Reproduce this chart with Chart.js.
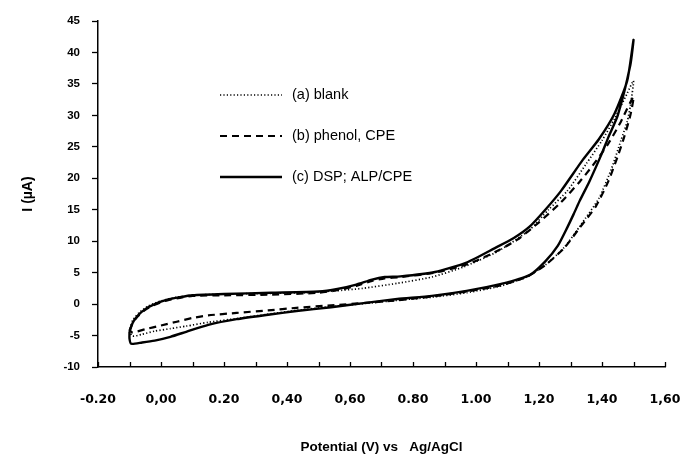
<!DOCTYPE html>
<html>
<head>
<meta charset="utf-8">
<title>Cyclic voltammograms</title>
<script src="https://cdn.jsdelivr.net/npm/chart.js@4/dist/chart.umd.min.js"></script>
<style>
  html, body { margin: 0; padding: 0; background: #ffffff; }
  #wrap { width: 681px; height: 458px; }
</style>
</head>
<body>
<div id="wrap"><canvas id="cv" width="681" height="458"></canvas></div>
<script>
// Cyclic voltammograms: potential (V vs Ag/AgCl) against current (µA).
// Each curve is a closed loop: anodic branch up to 1.5 V, then the return branch.

const seriesNames = ['(a) blank', '(b) phenol, CPE', '(c) DSP; ALP/CPE'];

const blankPotential = [
  -0.10, -0.09, -0.07, -0.04, 0.00, 0.05, 0.10, 0.20, 0.35, 0.45, 0.55, 0.64, 0.75, 0.86, 0.96,
  1.07, 1.17, 1.23, 1.29, 1.35, 1.40, 1.44, 1.48, 1.50,
  1.49, 1.48, 1.46, 1.43, 1.39, 1.33, 1.28, 1.22, 1.16, 1.08, 0.97, 0.86, 0.75, 0.65, 0.54,
  0.43, 0.34, 0.24, 0.15, 0.08, 0.03, -0.02, -0.06, -0.09, -0.10
];
const blankCurrent = [
  -4.4, -2.6, -1.4, -0.3, 0.5, 1.1, 1.4, 1.6, 1.7, 1.8, 2.1, 2.5, 3.3, 4.3, 5.9,
  8.4, 11.8, 15.0, 18.0, 22.3, 26.0, 29.5, 33.5, 35.5,
  31.5, 29.0, 26.0, 21.5, 16.8, 12.4, 9.0, 6.2, 4.3, 2.9, 1.8, 1.1, 0.6, 0.1, -0.4,
  -1.0, -1.6, -2.3, -2.9, -3.5, -3.9, -4.3, -4.8, -5.1, -4.4
];

const phenolPotential = [
  -0.10, -0.09, -0.075, -0.05, -0.02, 0.02, 0.06, 0.10, 0.20, 0.35, 0.50, 0.56, 0.62, 0.67, 0.71,
  0.76, 0.87, 0.97, 1.05, 1.13, 1.20, 1.27, 1.33, 1.37, 1.42, 1.46, 1.50,
  1.49, 1.47, 1.45, 1.42, 1.38, 1.33, 1.28, 1.22, 1.16, 1.08, 0.97, 0.86, 0.75, 0.65, 0.54,
  0.43, 0.34, 0.24, 0.15, 0.10, 0.05, 0.00, -0.05, -0.09, -0.10
];
const phenolCurrent = [
  -4.2, -3.0, -2.0, -0.9, -0.1, 0.6, 1.0, 1.3, 1.4, 1.5, 1.8, 2.2, 2.9, 3.7, 4.1,
  4.3, 5.0, 6.3, 8.0, 10.2, 13.0, 16.2, 19.5, 22.0, 25.5, 29.0, 33.0,
  30.0, 26.5, 23.5, 19.5, 15.5, 12.2, 8.9, 6.2, 4.3, 3.0, 2.0, 1.2, 0.6, 0.2, -0.2,
  -0.6, -1.0, -1.4, -1.8, -2.2, -2.8, -3.4, -4.0, -4.5, -4.2
];

const dspPotential = [
  -0.10, -0.09, -0.075, -0.05, -0.02, 0.02, 0.06, 0.10, 0.20, 0.35, 0.50, 0.56, 0.62, 0.67, 0.71,
  0.76, 0.87, 0.97, 1.06, 1.12, 1.17, 1.22, 1.27, 1.34, 1.39, 1.44, 1.48, 1.50,
  1.49, 1.45, 1.42, 1.40, 1.36, 1.33, 1.31, 1.29, 1.26, 1.22, 1.17, 1.08, 0.97, 0.86, 0.75, 0.65, 0.54,
  0.43, 0.34, 0.24, 0.15, 0.08, 0.03, -0.02, -0.06, -0.095, -0.10, -0.10
];
const dspCurrent = [
  -4.4, -3.0, -1.9, -0.8, 0.0, 0.7, 1.1, 1.4, 1.6, 1.8, 2.0, 2.4, 3.1, 3.9, 4.3,
  4.4, 5.1, 6.6, 8.9, 10.5, 12.3, 15.0, 18.0, 23.0, 26.2, 30.3, 35.5, 42.0,
  38.0, 30.0, 26.5, 24.0, 19.5, 16.5, 14.3, 12.2, 9.3, 6.8, 4.6, 3.2, 2.1, 1.3, 0.8, 0.2, -0.5,
  -1.1, -1.7, -2.4, -3.3, -4.4, -5.2, -5.8, -6.1, -6.3, -5.5, -4.4
];

// Tick labels along the potential axis (one every 0.2 V)
const potentialTickLabels = ['-0.20', '0,00', '0.20', '0,40', '0,60', '0.80', '1.00', '1,20', '1,40', '1,60'];
const currentTicks = [45, 40, 35, 30, 25, 20, 15, 10, 5, 0, -5, -10];

const toPoints = (xs, ys) => xs.map((x, i) => ({ x: x, y: ys[i] }));

const tickFont = { family: 'Liberation Sans, Arial, sans-serif', size: 11.5, weight: 'bold' };
const xTickFont = { family: 'DejaVu Sans, sans-serif', size: 12.5, weight: 'bold' };

// Tick marks on the potential axis (every 0.1 V) point up into the plot
const innerTicks = {
  id: 'innerTicks',
  afterDraw(chart) {
    const x = chart.scales.x;
    const ctx = chart.ctx;
    const bottom = chart.chartArea.bottom;
    ctx.save();
    ctx.strokeStyle = '#000';
    ctx.lineWidth = 1.3;
    const step = 0.1;
    const n = Math.round((x.max - x.min) / step);
    for (let i = 0; i <= n; i++) {
      const px = Math.round(x.getPixelForValue(x.min + i * step)) + 0.5;
      ctx.beginPath();
      ctx.moveTo(px, bottom);
      ctx.lineTo(px, bottom - 5);
      ctx.stroke();
    }
    ctx.restore();
  }
};

// Legend drawn inside the plot, sample line followed by the label
const insideLegend = {
  id: 'insideLegend',
  afterDatasetsDraw(chart, args, opts) {
    const ctx = chart.ctx;
    ctx.save();
    ctx.font = opts.font;
    ctx.textBaseline = 'middle';
    ctx.fillStyle = '#000';
    chart.data.datasets.forEach((ds, i) => {
      const y = opts.top + i * opts.rowGap;
      ctx.beginPath();
      ctx.setLineDash(ds.borderDash || []);
      ctx.lineWidth = ds.borderWidth;
      ctx.strokeStyle = ds.borderColor;
      ctx.moveTo(opts.left, y);
      ctx.lineTo(opts.left + opts.lineLength, y);
      ctx.stroke();
      ctx.setLineDash([]);
      ctx.fillText(ds.label, opts.left + opts.lineLength + opts.gap, y);
    });
    ctx.restore();
  }
};

new Chart(document.getElementById('cv'), {
  type: 'scatter',
  data: {
    datasets: [
      {
        label: seriesNames[0],
        data: toPoints(blankPotential, blankCurrent),
        showLine: true,
        borderColor: '#000',
        borderWidth: 1.7,
        borderDash: [1.2, 2.2],
        pointRadius: 0,
        tension: 0.2,
        fill: false
      },
      {
        label: seriesNames[1],
        data: toPoints(phenolPotential, phenolCurrent),
        showLine: true,
        borderColor: '#000',
        borderWidth: 2.2,
        borderDash: [7, 5],
        pointRadius: 0,
        tension: 0.2,
        fill: false
      },
      {
        label: seriesNames[2],
        data: toPoints(dspPotential, dspCurrent),
        showLine: true,
        borderColor: '#000',
        borderWidth: 2.4,
        pointRadius: 0,
        tension: 0.2,
        fill: false
      }
    ]
  },
  options: {
    responsive: false,
    animation: false,
    layout: { padding: { top: 21, right: 16, left: 0, bottom: 0 } },
    plugins: {
      legend: { display: false },
      tooltip: { enabled: false },
      insideLegend: {
        left: 220, top: 95, rowGap: 41, lineLength: 62, gap: 10,
        font: '14.5px "Liberation Sans", Arial, sans-serif'
      }
    },
    scales: {
      x: {
        type: 'linear',
        min: -0.2,
        max: 1.6,
        afterFit(scale) {
          scale.height = 91;
          scale.paddingLeft = 0;
          scale.paddingRight = 0;
        },
        afterBuildTicks(scale) {
          scale.ticks = potentialTickLabels.map((_, i) => ({ value: -0.2 + i * 0.2 }));
        },
        ticks: {
          color: '#000',
          font: xTickFont,
          padding: 17,
          maxRotation: 0,
          autoSkip: false,
          callback: (value, index) => potentialTickLabels[index]
        },
        grid: { display: false },
        border: { display: true, color: '#000', width: 1.5 },
        title: {
          display: true,
          text: 'Potential (V) vs   Ag/AgCl',
          color: '#000',
          font: { family: 'Liberation Sans, Arial, sans-serif', size: 13.5, weight: 'bold' },
          padding: { top: 0, bottom: 3 }
        }
      },
      y: {
        type: 'linear',
        min: -10,
        max: 45,
        afterFit(scale) { scale.width = 98; },
        afterBuildTicks(scale) {
          scale.ticks = currentTicks.map(v => ({ value: v }));
        },
        ticks: {
          color: '#000',
          font: tickFont,
          padding: 12,
          callback: (value) => String(value)
        },
        grid: {
          display: true,
          drawOnChartArea: false,
          drawTicks: true,
          tickLength: 6,
          tickColor: '#000',
          tickWidth: 1.3,
          color: '#000'
        },
        border: { display: true, color: '#000', width: 1.5 },
        title: {
          display: true,
          text: 'I (µA)',
          color: '#000',
          font: { family: 'Liberation Sans, Arial, sans-serif', size: 14, weight: 'bold' },
          padding: { top: 20, bottom: 0 }
        }
      }
    }
  },
  plugins: [innerTicks, insideLegend]
});
</script>
</body>
</html>
